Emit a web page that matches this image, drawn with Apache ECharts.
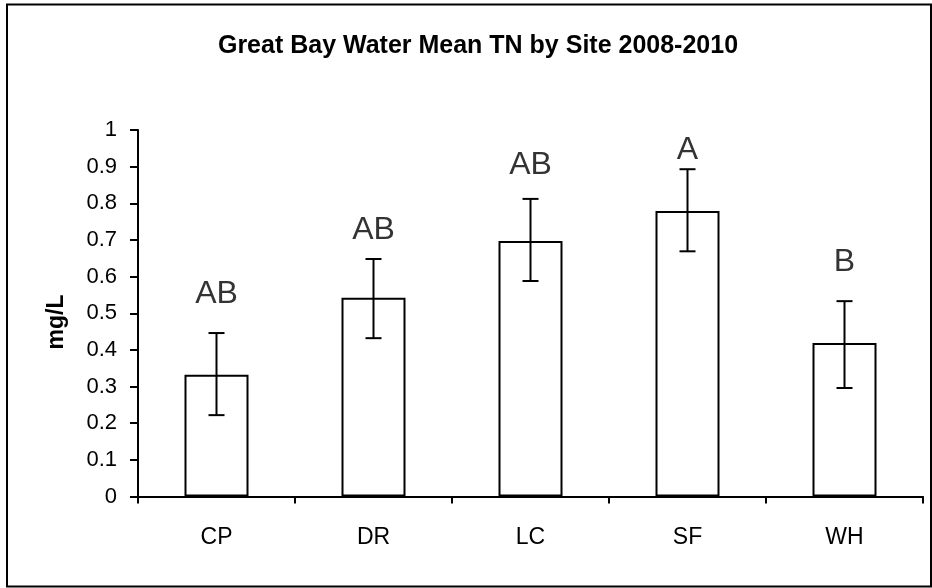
<!DOCTYPE html>
<html>
<head>
<meta charset="utf-8">
<script src="https://cdn.jsdelivr.net/npm/echarts@6/dist/echarts.min.js"></script>
<style>
  html, body { margin: 0; padding: 0; background: #fff; }
  #main { width: 932px; height: 588px; }
</style>
</head>
<body>
<div id="main"></div>
<script>
// data
var sites = ['CP', 'DR', 'LC', 'SF', 'WH'];
var meanTN = [0.332, 0.542, 0.697, 0.779, 0.419];
var errLow = [0.222, 0.432, 0.588, 0.669, 0.296];
var errHigh = [0.446, 0.648, 0.812, 0.893, 0.533];
var groupLetters = ['AB', 'AB', 'AB', 'A', 'B'];
var letterAt = [0.552, 0.727, 0.905, 0.945, 0.64];

var FONT = '"Liberation Sans", Arial, sans-serif';

var chart = echarts.init(document.getElementById('main'), null, { renderer: 'canvas' });

function renderErrorBar(params, api) {
  var i = api.value(0);
  var lo = api.coord([i, api.value(1)]);
  var hi = api.coord([i, api.value(2)]);
  var half = 8;
  var style = { stroke: '#000', lineWidth: 2 };
  return {
    type: 'group',
    children: [
      { type: 'line', shape: { x1: hi[0], y1: hi[1], x2: lo[0], y2: lo[1] }, style: style },
      { type: 'line', shape: { x1: hi[0] - half, y1: hi[1], x2: hi[0] + half, y2: hi[1] }, style: style },
      { type: 'line', shape: { x1: lo[0] - half, y1: lo[1], x2: lo[0] + half, y2: lo[1] }, style: style }
    ]
  };
}

var option = {
  backgroundColor: '#fff',
  animation: false,
  title: {
    text: 'Great Bay Water Mean TN by Site 2008-2010',
    left: 473,
    top: 28.5,
    textAlign: 'center',
    textStyle: { fontFamily: FONT, fontSize: 25, fontWeight: 'bold', color: '#000' }
  },
  grid: { left: 138, right: 9, top: 130, bottom: 91.5 },
  xAxis: {
    type: 'category',
    data: sites,
    axisLine: { lineStyle: { color: '#000', width: 2 } },
    axisTick: { show: true, length: 7, interval: 0, lineStyle: { color: '#000', width: 2 } },
    axisLabel: { color: '#000', fontFamily: FONT, fontSize: 23, margin: 29.5 },
    splitLine: { show: false }
  },
  yAxis: {
    type: 'value',
    min: 0,
    max: 1,
    interval: 0.1,
    axisLine: { show: true, lineStyle: { color: '#000', width: 2 } },
    axisTick: { show: true, length: 8, lineStyle: { color: '#000', width: 2 } },
    axisLabel: { color: '#000', fontFamily: FONT, fontSize: 22, margin: 21 },
    splitLine: { show: false }
  },
  graphic: [
    {
      type: 'rect',
      shape: { x: 7, y: 4.5, width: 924, height: 582 },
      style: { fill: 'none', stroke: '#000', lineWidth: 2 },
      silent: true
    },
    {
      type: 'text',
      x: 57,
      y: 322,
      rotation: Math.PI / 2,
      style: {
        text: 'mg/L',
        font: 'bold 23px ' + FONT,
        fill: '#000',
        textAlign: 'center',
        textVerticalAlign: 'middle'
      }
    }
  ],
  series: [
    {
      name: 'Mean TN',
      type: 'bar',
      data: meanTN,
      barWidth: 64,
      itemStyle: { color: '#fff', borderColor: '#000', borderWidth: 2 }
    },
    {
      name: 'SE',
      type: 'custom',
      renderItem: renderErrorBar,
      encode: { x: 0, y: [1, 2] },
      data: sites.map(function (s, i) { return [i, errLow[i], errHigh[i]]; }),
      z: 5
    },
    {
      name: 'Groups',
      type: 'scatter',
      symbolSize: 1,
      itemStyle: { color: 'rgba(0,0,0,0)' },
      data: sites.map(function (s, i) { return [i, letterAt[i]]; }),
      label: {
        show: true,
        position: 'inside',
        color: '#000',
        fontFamily: FONT,
        fontSize: 32,
        formatter: function (p) { return groupLetters[p.dataIndex]; }
      },
      z: 6
    }
  ]
};

chart.setOption(option);
</script>
</body>
</html>
